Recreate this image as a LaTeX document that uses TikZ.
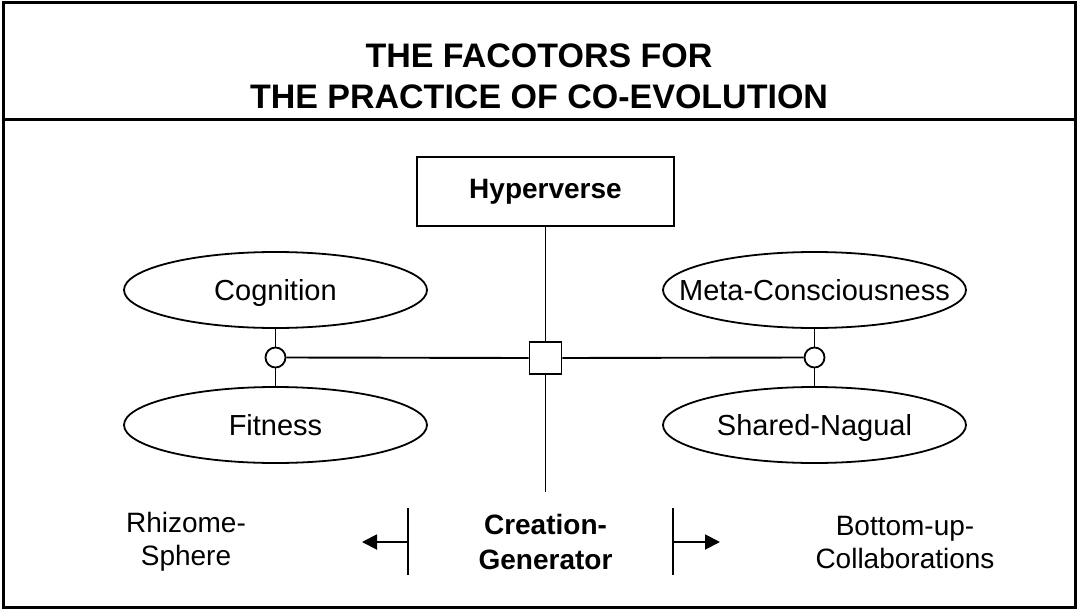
\documentclass[tikz,border=0pt]{standalone}
\usepackage{fontspec}
\setmainfont{Liberation Sans}
\usetikzlibrary{shapes.geometric,arrows.meta}

\tikzset{
  factor/.style={ellipse,draw,line width=1.8pt,inner sep=0pt,
    minimum width=303pt,minimum height=76pt,
    label={[font=\fontsize{29}{34}\selectfont,inner sep=0pt,
      text height=21pt,text depth=0pt]center:#1}},
  joint/.style={circle,draw,fill=white,line width=1.8pt,inner sep=0pt,minimum size=20pt},
  hub/.style={rectangle,draw,fill=white,line width=1.8pt,inner sep=0pt,minimum size=32pt},
  link/.style={line width=1.9pt},
  side/.style={font=\fontsize{28}{33}\selectfont,align=center}
}

\begin{document}
\begin{tikzpicture}[x=1pt,y=-1pt,>={Triangle[length=15pt,width=15pt]}]
  \useasboundingbox (0,0) rectangle (1078,610);
% frame and title
  \draw[line width=3pt] (3,3) rectangle (1075,607);
  \draw[line width=3pt] (3,119) -- (1075,119);
  \node[font=\bfseries\fontsize{34}{41}\selectfont,align=center] (title) at (539,76)
    {THE FACOTORS FOR\\THE PRACTICE OF CO-EVOLUTION};
% top box and hub
  \node[draw,line width=1.8pt,minimum width=257pt,minimum height=69pt,
    font=\bfseries\fontsize{28}{33}\selectfont] (hyper) at (545.5,191.5) {Hyperverse};
  \node[hub] (hub) at (545.5,358) {};
  \coordinate (genTop) at (545.5,492);
% factors
  \node[factor=Cognition] (cog) at (275.5,290) {};
  \node[factor=Fitness] (fit) at (275.5,425) {};
  \node[factor=Meta-Consciousness] (meta) at (814.5,290) {};
  \node[factor=Shared-Nagual] (nagual) at (814.5,425) {};
  \node[joint] (jl) at (275.5,357.5) {};
  \node[joint] (jr) at (814.5,357.5) {};
% connectors
  \draw[link] (hyper.south) -- (hub.north);
  \draw[link] (hub.south) -- (genTop);
  \draw[link] (hub.west) -- (jl.east);
  \draw[link] (hub.east) -- (jr.west);
  \draw[link] (cog.south) -- (jl.north) (jl.south) -- (fit.north);
  \draw[link] (meta.south) -- (jr.north) (jr.south) -- (nagual.north);
% bottom row
  \node[side,font=\bfseries\fontsize{28}{35}\selectfont] (gen) at (545.5,542) {Creation-\\Generator};
  \node[side] (rhizome) at (186,542) {Rhizome-\\Sphere};
  \node[side] (bottomup) at (905,542) {Bottom-up-\\Collaborations};
  \coordinate (barLtop) at (408,508);
  \coordinate (barLbot) at (408,575);
  \coordinate (barRtop) at (673,508);
  \coordinate (barRbot) at (673,575);
  \coordinate (tipL) at (362,542);
  \coordinate (tipR) at (720,542);
  \draw[link] (barLtop) -- (barLbot);
  \draw[link] (barRtop) -- (barRbot);
  \draw[link,->] (barLtop |- tipL) -- (tipL);
  \draw[link,->] (barRtop |- tipR) -- (tipR);
\end{tikzpicture}
\end{document}
